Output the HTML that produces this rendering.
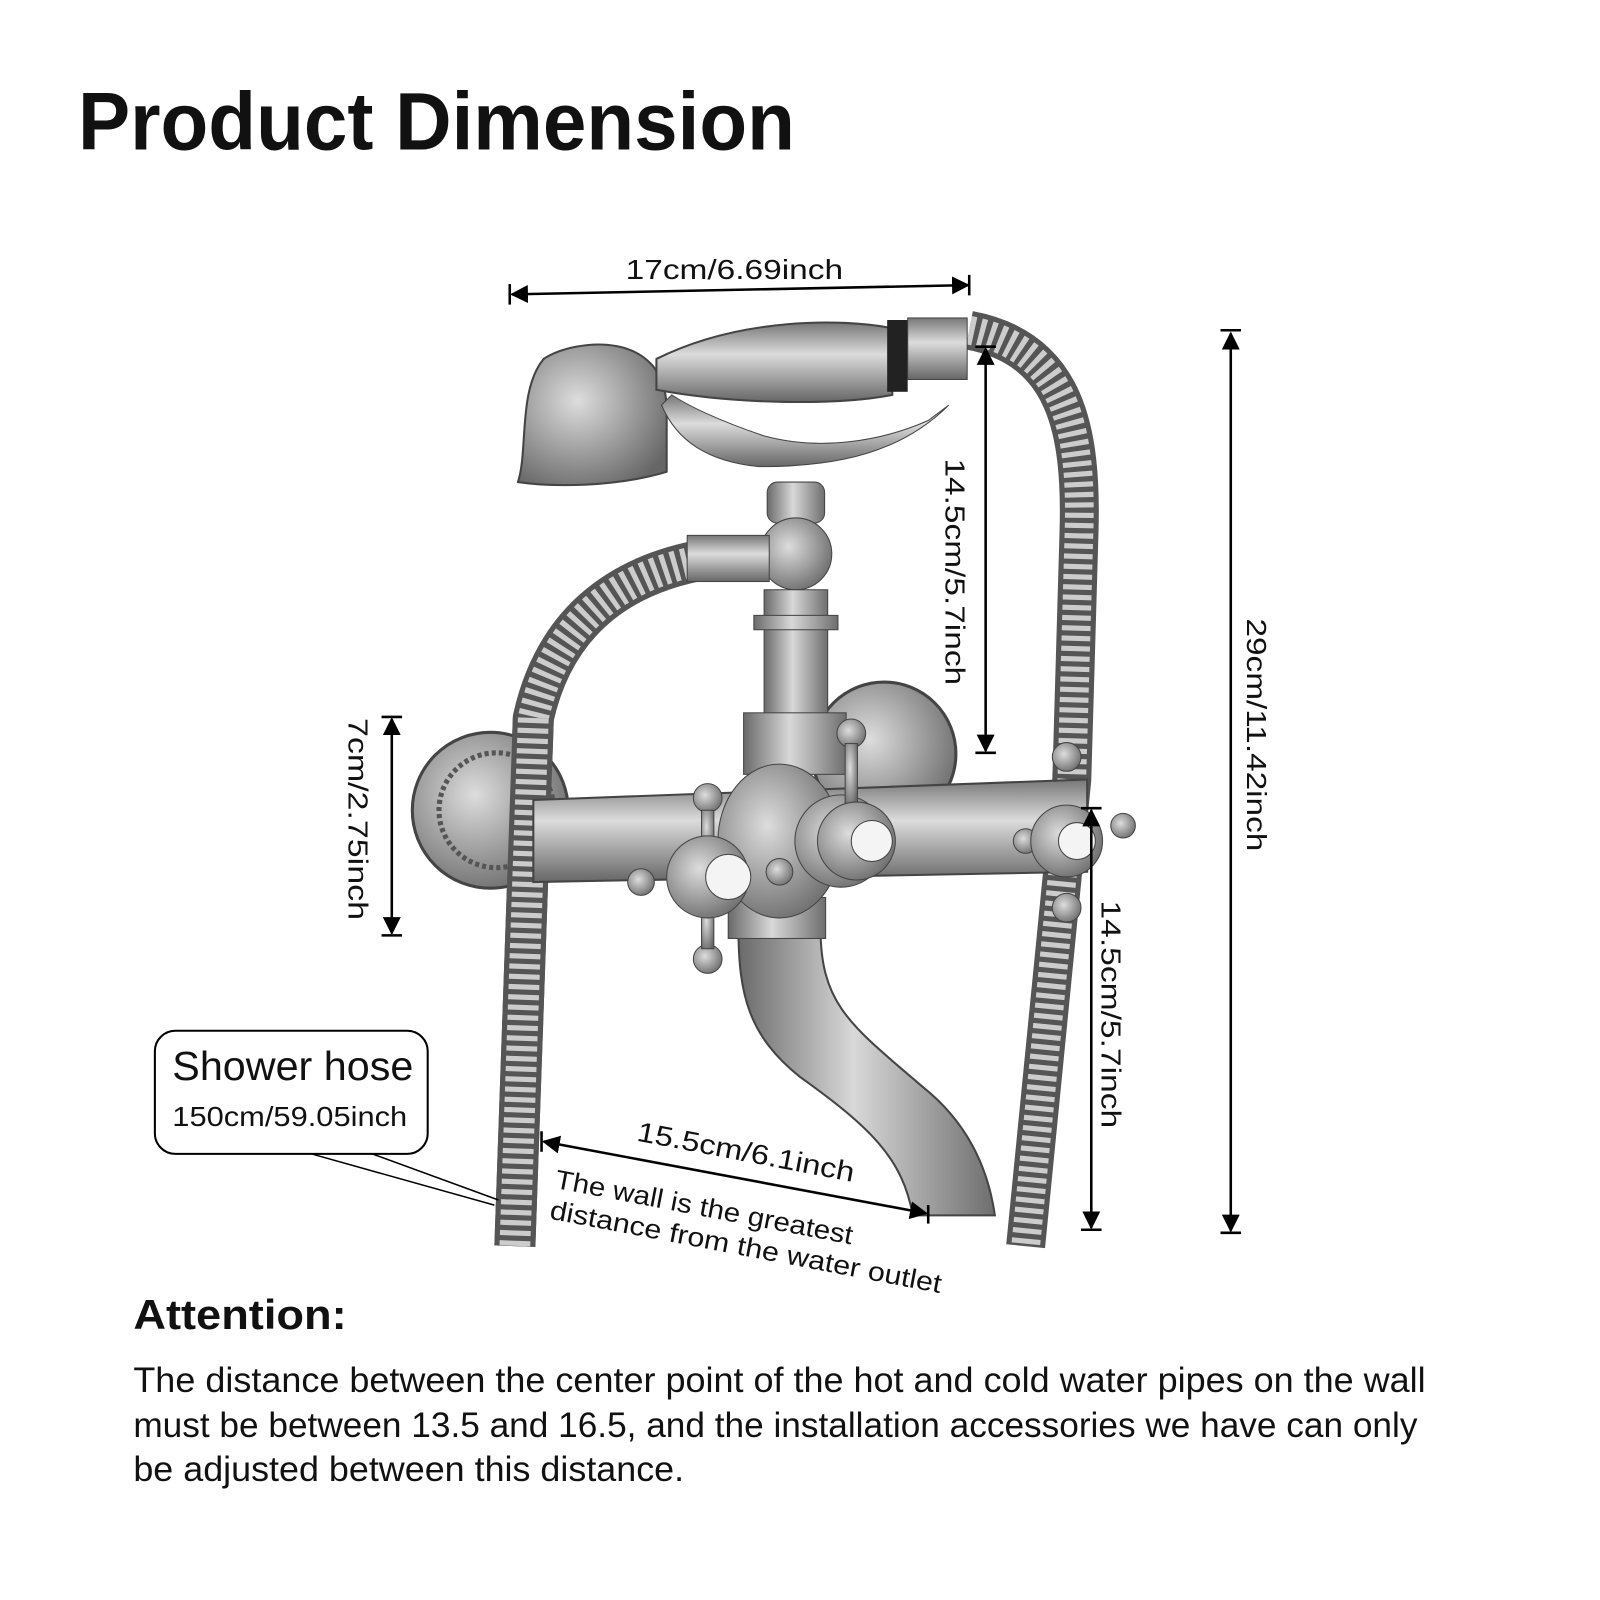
<!DOCTYPE html>
<html><head><style>
html,body{margin:0;padding:0;background:#fff;}
svg{display:block;}
text{font-family:"Liberation Sans",sans-serif;fill:#111;}
</style></head><body>
<svg width="1600" height="1600" viewBox="0 0 1560 1560" xmlns="http://www.w3.org/2000/svg">
<defs>
<linearGradient id="m" x1="0" y1="0" x2="1" y2="0">
<stop offset="0" stop-color="#6a6a6a"/><stop offset="0.45" stop-color="#d8d8d8"/><stop offset="1" stop-color="#6e6e6e"/></linearGradient>
<linearGradient id="mv" x1="0" y1="0" x2="0" y2="1">
<stop offset="0" stop-color="#777"/><stop offset="0.4" stop-color="#dcdcdc"/><stop offset="1" stop-color="#666"/></linearGradient>
<radialGradient id="rd" cx="0.4" cy="0.4" r="0.7"><stop offset="0" stop-color="#ddd"/><stop offset="1" stop-color="#666"/></radialGradient>
<marker id="a" viewBox="0 0 10 10" refX="9" refY="5" markerWidth="7" markerHeight="7" orient="auto-start-reverse"><path d="M0,0L10,5L0,10z" fill="#000"/></marker>
</defs>
<rect width="1560" height="1560" fill="#fff"/>
<text x="76" y="146" font-size="80" font-weight="bold" textLength="699" lengthAdjust="spacingAndGlyphs">Product Dimension</text>

<path d="M690,545 C600,560 540,610 520,700 L502,1215" fill="none" stroke="#555" stroke-width="40"/>
<path d="M690,545 C600,560 540,610 520,700 L502,1215" fill="none" stroke="#ccc" stroke-width="30" stroke-dasharray="5 5"/>
<path d="M945,322 C1040,340 1055,420 1052,520 L1045,760 L1000,1215" fill="none" stroke="#555" stroke-width="38"/>
<path d="M945,322 C1040,340 1055,420 1052,520 L1045,760 L1000,1215" fill="none" stroke="#ccc" stroke-width="28" stroke-dasharray="5 5"/>

<circle cx="862" cy="735" r="70" fill="url(#rd)" stroke="#444" stroke-width="3"/>
<circle cx="478" cy="790" r="76" fill="url(#rd)" stroke="#444" stroke-width="3"/>
<circle cx="484" cy="790" r="56" fill="none" stroke="#555" stroke-width="5" stroke-dasharray="4 3"/>
<path d="M520,700 L502,1215" fill="none" stroke="#555" stroke-width="40"/>
<path d="M520,700 L502,1215" fill="none" stroke="#ccc" stroke-width="30" stroke-dasharray="5 5"/>

<path d="M720,905 L800,905 C800,980 830,1000 900,1060 C950,1100 965,1150 970,1185 L890,1185 C880,1130 850,1100 780,1050 C730,1010 720,970 720,905z" fill="url(#m)" stroke="#444" stroke-width="2"/>
<rect x="710" y="875" width="95" height="40" fill="url(#m)" stroke="#444"/>
<rect x="748" y="470" width="56" height="40" rx="10" fill="url(#m)" stroke="#444"/>
<circle cx="776" cy="540" r="35" fill="url(#rd)" stroke="#444"/>
<rect x="745" y="575" width="62" height="130" fill="url(#m)" stroke="#444"/>
<rect x="735" y="600" width="82" height="14" fill="url(#m)" stroke="#444"/>
<rect x="725" y="695" width="100" height="60" fill="url(#m)" stroke="#444"/>
<rect x="670" y="522" width="80" height="45" fill="url(#mv)" stroke="#444"/>
<path d="M520,780 L1060,760 L1060,850 L520,860z" fill="url(#mv)" stroke="#444" stroke-width="2"/>
<ellipse cx="760" cy="820" rx="60" ry="75" fill="url(#rd)" stroke="#444"/>
<ellipse cx="820" cy="820" rx="45" ry="45" fill="url(#rd)" stroke="#444"/>
<g stroke="#444" fill="url(#rd)">
<circle cx="690" cy="778" r="14"/><rect x="684" y="790" width="12" height="40"/>
<circle cx="690" cy="935" r="14"/><rect x="684" y="880" width="12" height="45"/>
<circle cx="625" cy="860" r="13"/><circle cx="760" cy="850" r="13"/>
<circle cx="690" cy="855" r="40"/><circle cx="710" cy="855" r="22" fill="#f4f4f4"/>
<circle cx="830" cy="715" r="14"/><rect x="824" y="725" width="12" height="60"/>
<circle cx="835" cy="820" r="38"/><circle cx="850" cy="820" r="20" fill="#f4f4f4"/>
<circle cx="1040" cy="738" r="14"/><circle cx="1040" cy="885" r="14"/>
<circle cx="1095" cy="805" r="12"/><circle cx="1000" cy="820" r="12"/>
<circle cx="1040" cy="820" r="35"/><circle cx="1050" cy="820" r="18" fill="#f4f4f4"/>
</g>

<path d="M650,400 C650,320 560,330 530,350 C505,380 515,440 505,470 C540,475 600,475 650,460z" fill="url(#rd)" stroke="#444" stroke-width="2"/>
<path d="M640,350 C720,310 820,310 870,320 L870,385 C820,395 720,395 640,380z" fill="url(#mv)" stroke="#444" stroke-width="2"/>
<rect x="865" y="312" width="20" height="70" fill="#222"/>
<rect x="885" y="310" width="58" height="60" fill="url(#mv)" stroke="#444"/>
<path d="M645,395 C660,430 690,450 740,455 C820,455 880,440 925,395 L905,410 C860,430 800,440 745,425 C700,410 670,395 655,385z" fill="url(#mv)" stroke="#444"/>

<g stroke="#000" stroke-width="2.5" fill="none">
<line x1="499" y1="287" x2="944" y2="278" marker-start="url(#a)" marker-end="url(#a)"/>
<line x1="497" y1="277" x2="497" y2="297"/><line x1="945" y1="268" x2="945" y2="288"/>
<line x1="961" y1="340" x2="961" y2="732" marker-start="url(#a)" marker-end="url(#a)"/>
<line x1="951" y1="338" x2="971" y2="338"/><line x1="951" y1="734" x2="971" y2="734"/>
<line x1="1200" y1="325" x2="1200" y2="1200" marker-start="url(#a)" marker-end="url(#a)"/>
<line x1="1190" y1="322" x2="1210" y2="322"/><line x1="1190" y1="1202" x2="1210" y2="1202"/>
<line x1="382" y1="701" x2="382" y2="910" marker-start="url(#a)" marker-end="url(#a)"/>
<line x1="372" y1="699" x2="392" y2="699"/><line x1="372" y1="912" x2="392" y2="912"/>
<line x1="1064" y1="790" x2="1064" y2="1197" marker-start="url(#a)" marker-end="url(#a)"/>
<line x1="1054" y1="788" x2="1074" y2="788"/><line x1="1054" y1="1199" x2="1074" y2="1199"/>
<line x1="530" y1="1113" x2="903" y2="1183" marker-start="url(#a)" marker-end="url(#a)"/>
<line x1="528" y1="1103" x2="528" y2="1123"/><line x1="905" y1="1175" x2="905" y2="1193"/>
<line x1="300" y1="1124" x2="482" y2="1175" stroke-width="1.5"/><line x1="360" y1="1124" x2="486" y2="1170" stroke-width="1.5"/>
</g>
<g font-size="27" lengthAdjust="spacingAndGlyphs">
<text x="610" y="272" textLength="212" lengthAdjust="spacingAndGlyphs">17cm/6.69inch</text>
<text transform="translate(922,447) rotate(90)" textLength="221" lengthAdjust="spacingAndGlyphs">14.5cm/5.7inch</text>
<text transform="translate(1216,603) rotate(90)" textLength="227" lengthAdjust="spacingAndGlyphs">29cm/11.42inch</text>
<text transform="translate(340,700) rotate(90)" textLength="197" lengthAdjust="spacingAndGlyphs">7cm/2.75inch</text>
<text transform="translate(1074,878) rotate(90)" textLength="222" lengthAdjust="spacingAndGlyphs">14.5cm/5.7inch</text>
<text transform="translate(620,1112) rotate(10.8)" textLength="215" lengthAdjust="spacingAndGlyphs">15.5cm/6.1inch</text>
</g>
<g font-size="26">
<text transform="translate(540,1158) rotate(10.8)" textLength="295" lengthAdjust="spacingAndGlyphs">The wall is the greatest</text>
<text transform="translate(535,1188) rotate(10.8)" textLength="388" lengthAdjust="spacingAndGlyphs">distance from the water outlet</text>
</g>
<rect x="151" y="1005" width="266" height="120" rx="20" fill="#fff" stroke="#000" stroke-width="2"/>
<text x="168" y="1053" font-size="40" textLength="235" lengthAdjust="spacingAndGlyphs">Shower hose</text>
<text x="168" y="1098" font-size="27" textLength="229" lengthAdjust="spacingAndGlyphs">150cm/59.05inch</text>

<text x="130" y="1296" font-size="41" font-weight="bold" textLength="208" lengthAdjust="spacingAndGlyphs">Attention:</text>
<g font-size="34">
<text x="130" y="1357" textLength="1260" lengthAdjust="spacingAndGlyphs">The distance between the center point of the hot and cold water pipes on the wall</text>
<text x="130" y="1401" textLength="1252" lengthAdjust="spacingAndGlyphs">must be between 13.5 and 16.5, and the installation accessories we have can only</text>
<text x="130" y="1444" textLength="537" lengthAdjust="spacingAndGlyphs">be adjusted between this distance.</text>
</g>
</svg>
</body></html>
